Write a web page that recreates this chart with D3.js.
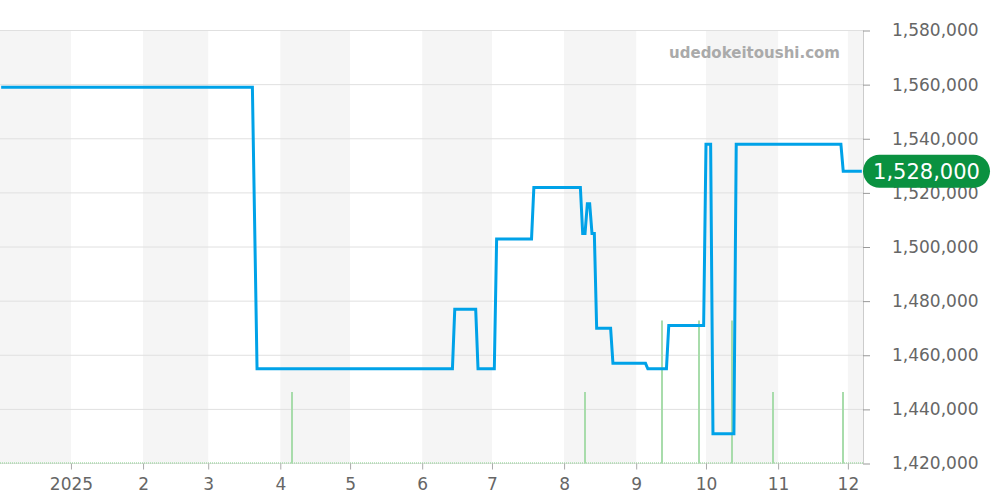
<!DOCTYPE html>
<html>
<head>
<meta charset="utf-8">
<script src="https://cdn.jsdelivr.net/npm/d3@7"></script>
<style>
	body { margin: 0; background: #fff; }
	svg { display: block; font-family: "DejaVu Sans", sans-serif; }
</style>
</head>
<body>
<svg width="1000" height="500"></svg>
<script>
// price steps (date, yen)
var priceDates = ["2024-12-02", "2025-03-20", "2025-03-22", "2025-06-14", "2025-06-15", "2025-06-24", "2025-06-25",
	"2025-07-02", "2025-07-03", "2025-07-18", "2025-07-19", "2025-08-08", "2025-08-09", "2025-08-10", "2025-08-11",
	"2025-08-12", "2025-08-13", "2025-08-14", "2025-08-15", "2025-08-21", "2025-08-22", "2025-09-05", "2025-09-06",
	"2025-09-14", "2025-09-15", "2025-09-30", "2025-10-01", "2025-10-03", "2025-10-04", "2025-10-13", "2025-10-14",
	"2025-11-28", "2025-11-29", "2025-12-07"];
var priceValues = [1559000, 1559000, 1455000, 1455000, 1477000, 1477000, 1455000,
	1455000, 1503000, 1503000, 1522000, 1522000, 1505000, 1505000, 1516000,
	1516000, 1505000, 1505000, 1470000, 1470000, 1457000, 1457000, 1455000,
	1455000, 1471000, 1471000, 1538000, 1538000, 1431000, 1431000, 1538000,
	1538000, 1528000, 1528000];

// sales volume
var volDates = ["2025-04-06", "2025-08-10", "2025-09-12", "2025-09-28", "2025-10-12", "2025-10-30", "2025-11-29"];
var volValues = [1, 1, 2, 2, 2, 1, 1];

var yTicks = [1420000, 1440000, 1460000, 1480000, 1500000, 1520000, 1540000, 1560000, 1580000];
var monthTicks = ["2025-01-01", "2025-02-01", "2025-03-01", "2025-04-01", "2025-05-01", "2025-06-01",
	"2025-07-01", "2025-08-01", "2025-09-01", "2025-10-01", "2025-11-01", "2025-12-01"];
var monthLabels = ["2025", "2", "3", "4", "5", "6", "7", "8", "9", "10", "11", "12"];
var bandMonths = ["2024-12-01", "2025-02-01", "2025-04-01", "2025-06-01", "2025-08-01", "2025-10-01", "2025-12-01"];
var currentPrice = 1528000;
var siteName = "udedokeitoushi.com";

var parseDate = d3.timeParse("%Y-%m-%d");
var fmt = d3.format(",");

var svg = d3.select("svg"),
	plotL = 0,
	plotR = 863,
	plotT = 30.5,
	plotB = 463.5;

var x = d3.scaleTime()
	.domain([new Date(2024, 11, 1, 12), new Date(2025, 11, 7, 12)])
	.range([plotL, plotR]);
var y = d3.scaleLinear().domain([1420000, 1580000]).range([plotB, plotT]);
var yVol = d3.scaleLinear().domain([0, 6]).range([plotB, plotT + 4]);

svg.append("clipPath").attr("id", "clip")
	.append("rect").attr("x", plotL).attr("y", 0).attr("width", plotR - plotL).attr("height", 500);

// alternating month bands
svg.append("g").attr("clip-path", "url(#clip)")
	.selectAll("rect")
	.data(bandMonths.map(parseDate))
	.enter().append("rect")
	.attr("x", function(d) { return x(d); })
	.attr("y", plotT)
	.attr("width", function(d) { return x(d3.timeMonth.offset(d, 1)) - x(d); })
	.attr("height", plotB - plotT)
	.attr("fill", "#f5f5f5");

// grid lines
svg.append("g")
	.selectAll("line")
	.data(yTicks)
	.enter().append("line")
	.attr("x1", plotL).attr("x2", plotR)
	.attr("y1", function(d) { return y(d); })
	.attr("y2", function(d) { return y(d); })
	.attr("stroke", "#e0e0e0");

// watermark
svg.append("text")
	.attr("x", 840).attr("y", 57.5)
	.attr("text-anchor", "end")
	.attr("font-size", 15)
	.attr("font-weight", "bold")
	.attr("fill", "#aaa")
	.text(siteName);

// volume
svg.append("line")
	.attr("x1", plotL).attr("x2", plotR)
	.attr("y1", plotB - 0.5).attr("y2", plotB - 0.5)
	.attr("stroke", "#a8dcab")
	.attr("stroke-width", 1.5)
	.attr("stroke-dasharray", "1,1");

var vol = volDates.map(function(d, i) { return { date: parseDate(d), v: volValues[i] }; });
svg.append("g")
	.selectAll("line")
	.data(vol)
	.enter().append("line")
	.attr("x1", function(d) { return Math.round(x(d.date)); })
	.attr("x2", function(d) { return Math.round(x(d.date)); })
	.attr("y1", plotB)
	.attr("y2", function(d) { return yVol(d.v); })
	.attr("stroke", "#a8dcab")
	.attr("stroke-width", 2);

// price line
var prices = priceDates.map(function(d, i) { return { date: parseDate(d), v: priceValues[i] }; });
var valueline = d3.line()
	.x(function(d) { return x(d.date); })
	.y(function(d) { return y(d.v); });

svg.append("path")
	.datum(prices)
	.attr("clip-path", "url(#clip)")
	.attr("fill", "none")
	.attr("stroke", "#00a2e8")
	.attr("stroke-width", 3)
	.attr("d", valueline);

// right axis
var yAxis = svg.append("g")
	.attr("transform", "translate(" + plotR + ",0)")
	.call(d3.axisRight(y).tickValues(yTicks).tickFormat(fmt).tickSize(7).tickPadding(22));
yAxis.select(".domain").attr("stroke", "#ccc").attr("d", "M0.5," + plotT + "V" + plotB);
yAxis.selectAll(".tick line").attr("stroke", "#999");
yAxis.selectAll(".tick text").attr("fill", "#666").attr("font-size", 17).attr("font-family", "DejaVu Sans");

// bottom axis
var xAxis = svg.append("g")
	.attr("transform", "translate(0," + plotB + ")")
	.call(d3.axisBottom(x).tickValues(monthTicks.map(parseDate)).tickFormat(function(d, i) { return monthLabels[i]; }).tickSize(6).tickPadding(8));
xAxis.select(".domain").remove();
xAxis.selectAll(".tick line").attr("stroke", "#aaa");
xAxis.selectAll(".tick text").attr("fill", "#666").attr("font-size", 17).attr("font-family", "DejaVu Sans");

// current price badge
var badge = svg.append("g").attr("transform", "translate(" + plotR + "," + y(currentPrice) + ")");
badge.append("rect")
	.attr("x", 0).attr("y", -16.5)
	.attr("width", 127).attr("height", 33)
	.attr("rx", 16.5)
	.attr("fill", "#0a9140");
badge.append("text")
	.attr("x", 63.5).attr("y", 0)
	.attr("dy", "0.36em")
	.attr("text-anchor", "middle")
	.attr("font-size", 21)
	.attr("fill", "#fff")
	.text(fmt(currentPrice));
</script>
</body>
</html>
